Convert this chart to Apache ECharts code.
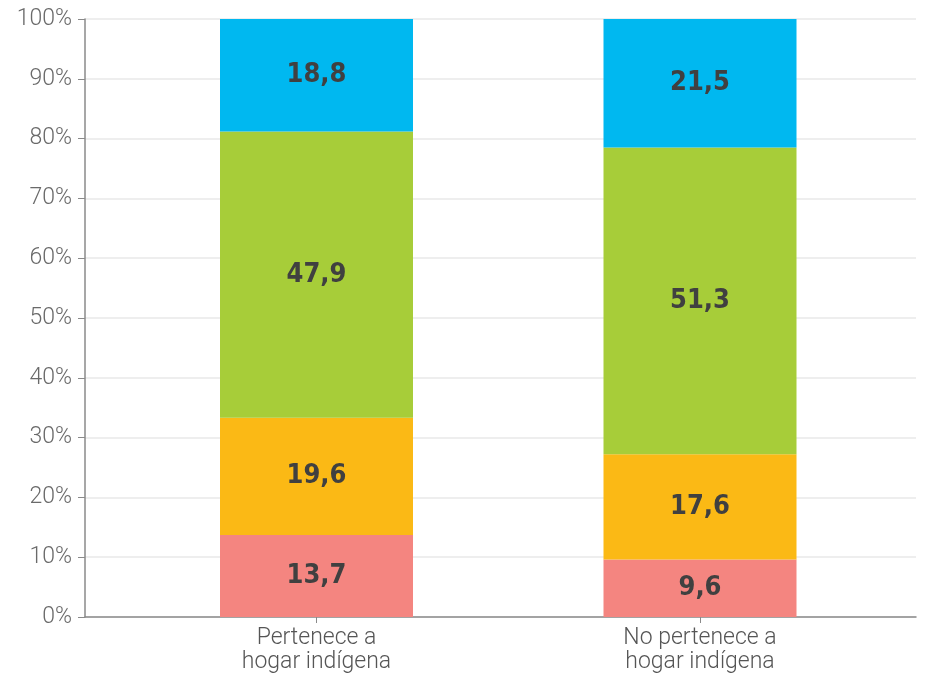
<!DOCTYPE html>
<html><head><meta charset="utf-8">
<script src="https://cdn.jsdelivr.net/npm/echarts@6/dist/echarts.min.js"></script>
<style>html,body{margin:0;padding:0;background:#fff}#c{width:930px;height:674px}</style>
</head><body><div id="c"></div>
<script>
const categories = ['Pertenece a\nhogar indígena', 'No pertenece a\nhogar indígena'];
const seriesNames = ['S1', 'S2', 'S3', 'S4'];
const s1 = [13.7, 9.6];
const s2 = [19.6, 17.6];
const s3 = [47.9, 51.3];
const s4 = [18.8, 21.5];
const yTicks = [0, 10, 20, 30, 40, 50, 60, 70, 80, 90, 100];
const colors = ['#f48580', '#fbb915', '#a7cd39', '#00b8f0'];

const chart = echarts.init(document.getElementById('c'), null, {renderer: 'canvas'});
const data = [s1, s2, s3, s4];
const labelFont = '"DejaVu Sans Condensed", sans-serif';
const series = data.map((d, i) => ({
  name: seriesNames[i], type: 'bar', stack: 'total', xAxisIndex: 1, yAxisIndex: 1,
  data: d, barWidth: 193, itemStyle: {color: colors[i]},
  label: {show: true, position: 'inside', color: '#404040', fontFamily: labelFont,
    fontWeight: 'bold', fontSize: 27,
    formatter: p => p.value.toFixed(1).replace('.', ',')}
}));
chart.setOption({
  animation: false,
  grid: [
    {left: 85, right: 14, top: 19, bottom: 57},
    {left: 124.75, right: 38.25, top: 19, bottom: 57}
  ],
  xAxis: [
    {type: 'category', gridIndex: 0, data: categories,
     axisLine: {show: true, lineStyle: {color: '#8a8a8a', width: 1.5}},
     axisTick: {show: false}, axisLabel: {show: false}, splitLine: {show: false}},
    {type: 'category', gridIndex: 1, data: categories,
     axisLine: {show: false},
     axisTick: {show: true, alignWithLabel: true, length: 6, lineStyle: {color: '#8a8a8a', width: 1}},
     axisLabel: {show: true, color: '#555555', fontFamily: 'Roboto', fontWeight: 300, fontSize: 23, lineHeight: 24, margin: 9}}
  ],
  yAxis: [
    {type: 'value', gridIndex: 0, min: yTicks[0], max: yTicks[yTicks.length - 1], interval: 10,
     axisLine: {show: true, lineStyle: {color: '#8a8a8a', width: 1.5}},
     axisTick: {show: true, length: 7, lineStyle: {color: '#8a8a8a'}},
     axisLabel: {color: '#6a6a6a', fontFamily: 'Roboto', fontWeight: 300, fontSize: 23, margin: 13, formatter: v => v + '%'},
     splitLine: {show: true, lineStyle: {color: '#e8e8e8', width: 1.5}}},
    {type: 'value', gridIndex: 1, min: 0, max: 100, show: false, splitLine: {show: false}}
  ],
  series: series
});
</script></body></html>
